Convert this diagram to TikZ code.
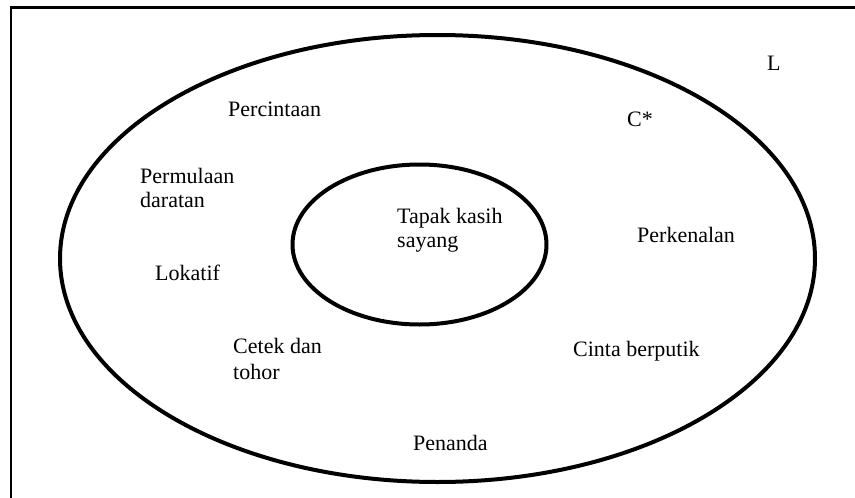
\documentclass[tikz,border=0pt]{standalone}
\usepackage{fontspec}
\setmainfont{Liberation Serif}
\begin{document}
\begin{tikzpicture}[x=1pt,y=-1pt,
  lbl/.style={anchor=base west, inner sep=0pt, font=\fontsize{22}{25}\selectfont},
  ring/.style={line width=4pt}]
\useasboundingbox (0,0) rectangle (855,498);
\clip (0,0) rectangle (855,498);
\draw[line width=2.5pt] (11,520) -- (11,7.5) -- (870,7.5);
\draw[ring] (437.5,258.5) ellipse [x radius=377.5, y radius=223.5];
\draw[ring] (419.5,244.5) ellipse [x radius=127, y radius=80];
\node[lbl] (l) at (767,70) {L};
\node[lbl] (c) at (627,126) {C*};
\node[lbl] (perc) at (228,116) {Percintaan};
\node[lbl] (perm1) at (140,183) {Permulaan};
\node[lbl] (perm2) at (140,207) {daratan};
\node[lbl] (lok) at (155,280) {Lokatif};
\node[lbl] (cet1) at (233,353) {Cetek dan};
\node[lbl] (cet2) at (233,379) {tohor};
\node[lbl] (pen) at (413,450) {Penanda};
\node[lbl] (cin) at (573,356) {Cinta berputik};
\node[lbl] (perk) at (637,242) {Perkenalan};
\node[lbl] (tap1) at (397,223) {Tapak kasih};
\node[lbl] (tap2) at (397,247) {sayang};
\end{tikzpicture}
\end{document}
